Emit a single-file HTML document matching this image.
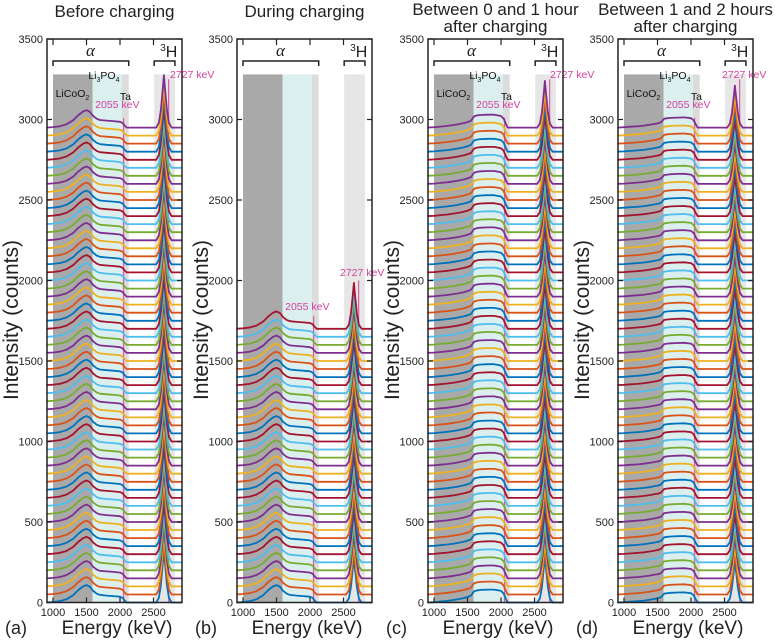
<!DOCTYPE html>
<html><head><meta charset="utf-8"><style>
html,body{margin:0;padding:0;background:#fff}
svg{display:block;font-family:"Liberation Sans","DejaVu Sans",sans-serif}
</style></head><body>
<svg id="fig" width="775" height="640" viewBox="0 0 775 640"></svg>
<script>
// ---- data ----
const profileEnergy = [900,1000,1100,1200,1300,1380,1450,1500,1550,1600,1650,1700,1800,1900,2000,2040,2070,2100,2540,2580,2610,2640,2655,2670,2700,2730,2770,2925];
const profileA = [0,3,8,20,45,78,100,108,98,72,55,47,43,40,36,28,12,0,0,30,110,250,325,250,110,30,0,0];
const profileB = [0,3,8,20,45,78,100,108,98,72,55,47,43,40,36,28,12,0,0,25,95,215,285,215,95,25,0,0];
const profileC = [0,2,6,10,16,22,28,34,42,70,76,78,80,80,72,55,25,0,0,25,95,220,290,220,95,25,0,0];
const profileD = [0,2,5,8,12,17,22,26,32,55,58,60,62,63,58,45,20,0,0,25,90,200,260,200,90,25,0,0];
const offsetsFull = [0,50,100,150,200,250,300,350,400,450,500,550,600,650,700,750,800,850,900,950,1000,1050,1100,1150,1200,1250,1300,1350,1400,1450,1500,1550,1600,1650,1700,1750,1800,1850,1900,1950,2000,2050,2100,2150,2200,2250,2300,2350,2400,2450,2500,2550,2600,2650,2700,2750,2800,2850,2900,2950];
const offsetsB = [0,50,100,150,200,250,300,350,400,450,500,550,600,650,700,750,800,850,900,950,1000,1050,1100,1150,1200,1250,1300,1350,1400,1450,1500,1550,1600,1650,1700];
const yTicks = [0,500,1000,1500,2000,2500,3000,3500];
const xTicks = [1000,1500,2000,2500];
const colors = ["#0072BD","#D95319","#EDB120","#7E2F8E","#77AC30","#4DBEEE","#A2142F"];

const NS = "http://www.w3.org/2000/svg";
const svg = document.getElementById("fig");
function mk(tag, attrs, parent){ const e=document.createElementNS(NS,tag); for(const k in attrs) e.setAttribute(k,attrs[k]); (parent||svg).appendChild(e); return e; }

const panels = [
 {L:47, id:"a", title:["Before charging"], prof:profileA, offs:offsetsFull, labels:true, l2055:3010, l2727:3250, t2055y:108, t2727x:170, t2727y:78},
 {L:237, id:"b", title:["During charging"], prof:profileB, offs:offsetsB, labels:false, l2055:1780, l2727:2000, t2055y:310, t2727x:340, t2727y:276},
 {L:428, id:"c", title:["Between 0 and 1 hour","after charging"], prof:profileC, offs:offsetsFull, labels:true, l2055:3010, l2727:3250, t2055y:108, t2727x:550, t2727y:78},
 {L:618, id:"d", title:["Between 1 and 2 hours","after charging"], prof:profileD, offs:offsetsFull, labels:true, l2055:3010, l2727:3250, t2055y:108, t2727x:722, t2727y:78}
];

panels.forEach(p=>{
  const L=p.L, W=135;
  const x = e => L+6+(e-1000)*0.067;
  const y = c => 602.5 - c*0.161;
  const g = mk("g",{});
  
  
  p.title.forEach((t,i)=>{
    const tt = mk("text",{x:L+W/2,y:(p.title.length>1?15:17)+i*17,"text-anchor":"middle","font-size":17,fill:"#222"},g);
    tt.textContent=t;
    
    
  });
  const top=y(3280);
  const bands=[[1000,1590,"#a9a9a9"],[1590,2030,"#dcefef"],[2030,2130,"#dcdcdc"],[2510,2820,"#e6e6e6"]];
  bands.forEach(b=>{
    const r=mk("rect",{x:x(b[0]),y:top,width:x(b[1])-x(b[0]),height:y(0)-top,fill:b[2]},g);
    
    
  });
  const pl1=mk("line",{x1:x(2055),x2:x(2055),y1:y(0),y2:y(p.l2055),stroke:"#d6409f","stroke-width":1},g);
   
  const pl2=mk("line",{x1:x(2727),x2:x(2727),y1:y(0),y2:y(p.l2727),stroke:"#d6409f","stroke-width":1},g);
   
  p.offs.forEach((o,i)=>{
    const pts = profileEnergy.map((e,j)=>x(e).toFixed(1)+","+y(o+p.prof[j]).toFixed(1)).join(" ");
    const pl=mk("polyline",{points:pts,fill:"none",stroke:colors[i%7],"stroke-width":1.8,"stroke-linejoin":"round"},g);
    
    
  });
  const txt=(s,attrs,name)=>{const t=mk("text",attrs,g);t.innerHTML=s;return t;};
  if(p.labels){
    txt('LiCoO<tspan font-size="7" dy="3">2</tspan>',{x:x(1290),y:97,"text-anchor":"middle","font-size":10.5,fill:"#111"},'label-licoo2');
    txt('Li<tspan font-size="7" dy="3">3</tspan><tspan dy="-3">PO</tspan><tspan font-size="7" dy="3">4</tspan>',{x:x(1760),y:79,"text-anchor":"middle","font-size":10.5,fill:"#111"},'label-li3po4');
    txt('Ta',{x:x(2080),y:100,"text-anchor":"middle","font-size":10.5,fill:"#111"},'label-ta');
  }
  txt('2055 keV',{x:x(1960),y:p.t2055y,"text-anchor":"middle","font-size":10.5,fill:"#d6409f"},'label-2055kev');
  txt('2727 keV',{x:p.t2727x,y:p.t2727y,"font-size":10.5,fill:"#d6409f"},'label-2727kev');
  const br=(e1,e2,name)=>{const b=mk("path",{d:`M${x(e1)},66 V61 H${x(e2)} V66`,fill:"none",stroke:"#222","stroke-width":1.5},g);};
  br(1000,2130,'alpha-bracket'); br(2510,2820,'tritium-bracket');
  txt('α',{x:x(1560),y:56,"text-anchor":"middle","font-size":17,"font-family":"Liberation Serif,serif","font-style":"italic",fill:"#222"},'label-alpha');
  txt('<tspan font-size="10" dy="-6">3</tspan><tspan dy="6">H</tspan>',{x:x(2600),y:57,"font-size":16,fill:"#222"},'label-tritium');
  const box=mk("rect",{x:L,y:y(3500),width:W,height:y(0)-y(3500),fill:"none",stroke:"#222","stroke-width":1.5},g);
   
  yTicks.forEach(v=>{
    mk("line",{x1:L,x2:L+5,y1:y(v),y2:y(v),stroke:"#222","stroke-width":1.2},g);
    mk("line",{x1:L+W-5,x2:L+W,y1:y(v),y2:y(v),stroke:"#222","stroke-width":1.2},g);
    txt(String(v),{x:L-4,y:y(v)+4,"text-anchor":"end","font-size":11,fill:"#222"},'y-tick-label');
  });
  xTicks.forEach(v=>{
    mk("line",{x1:x(v),x2:x(v),y1:y(0),y2:y(0)-5,stroke:"#222","stroke-width":1.2},g);
    mk("line",{x1:x(v),x2:x(v),y1:y(3500),y2:y(3500)+6,stroke:"#222","stroke-width":1.2},g);
    txt(String(v),{x:x(v),y:616,"text-anchor":"middle","font-size":11,fill:"#222"},'x-tick-label');
  });
  txt('('+p.id+')',{x:L-42,y:634,"font-size":18,fill:"#222"},'panel-letter');
  txt('Energy (keV)',{x:L+70,y:634,"text-anchor":"middle","font-size":19,fill:"#222"},'x-axis-title');
  txt('Intensity (counts)',{x:0,y:0,"text-anchor":"middle","font-size":21,fill:"#222",transform:`translate(${L-29},320) rotate(-90)`},'y-axis-title');
});
</script>
</body></html>
